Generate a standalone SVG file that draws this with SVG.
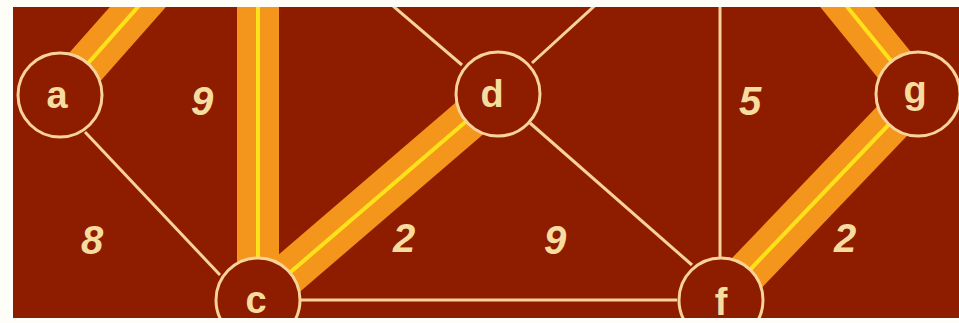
<svg xmlns="http://www.w3.org/2000/svg" width="959" height="323" viewBox="0 0 959 323">
<style>
.bg{fill:#8e1d00}
.thick{stroke:#f5961c;stroke-width:42;fill:none}
.core{stroke:#ffe21a;stroke-width:4;fill:none}
.thin{stroke:#f7d39a;stroke-width:3;fill:none}
.node circle{fill:#8e1d00;stroke:#f7d39a;stroke-width:3}
.lbl{font-family:"Liberation Sans",Arial,sans-serif;font-weight:bold;font-size:38px;fill:#f7dca0;text-anchor:middle}
.w{font-family:"Liberation Sans",Arial,sans-serif;font-weight:bold;font-style:italic;font-size:40px;fill:#f7dca0;text-anchor:middle}
</style>
<defs>
<clipPath id="frame"><rect x="13" y="7" width="946" height="311"/></clipPath>
</defs>
<rect width="959" height="323" fill="#fffdf8"/>
<rect class="bg" x="13" y="7" width="946" height="311"/>
<g clip-path="url(#frame)">
<g id="connectors">
<path class="thick" d="M60,95 L160,-18"/>
<path class="thick" d="M258,300 L258,-20"/>
<path class="thick" d="M258,300 L498,94"/>
<path class="thick" d="M721,300 L918,94"/>
<path class="thick" d="M918,94 L827,-18"/>
<path class="core" d="M60,95 L160,-18"/>
<path class="core" d="M258,300 L258,-20"/>
<path class="core" d="M258,300 L498,94"/>
<path class="core" d="M721,300 L918,94"/>
<path class="core" d="M918,94 L827,-18"/>
<path class="thin" d="M85,132 L220,275"/>
<path class="thin" d="M386,0 L462,65"/>
<path class="thin" d="M601,0 L532,63"/>
<path class="thin" d="M530,123 L692,265"/>
<path class="thin" d="M720,0 L720,257"/>
<path class="thin" d="M300,300 L677,300"/>
</g>
<g id="node-a" class="node"><circle cx="60" cy="95" r="42"/><text class="lbl" x="57" y="108">a</text></g>
<g id="node-c" class="node"><circle cx="258" cy="300" r="42"/><text class="lbl" x="256" y="313">c</text></g>
<g id="node-d" class="node"><circle cx="498" cy="94" r="42"/><text class="lbl" x="492" y="107">d</text></g>
<g id="node-g" class="node"><circle cx="918" cy="94" r="42"/><text class="lbl" x="915" y="103">g</text></g>
<g id="node-f" class="node"><circle cx="721" cy="300" r="42"/><text class="lbl" x="721" y="315">f</text></g>
<g id="weights">
<text class="w" x="202" y="115">9</text>
<text class="w" x="92" y="254">8</text>
<text class="w" x="404" y="252">2</text>
<text class="w" x="555" y="254">9</text>
<text class="w" x="750" y="115">5</text>
<text class="w" x="845" y="252">2</text>
</g>
</g>
</svg>
